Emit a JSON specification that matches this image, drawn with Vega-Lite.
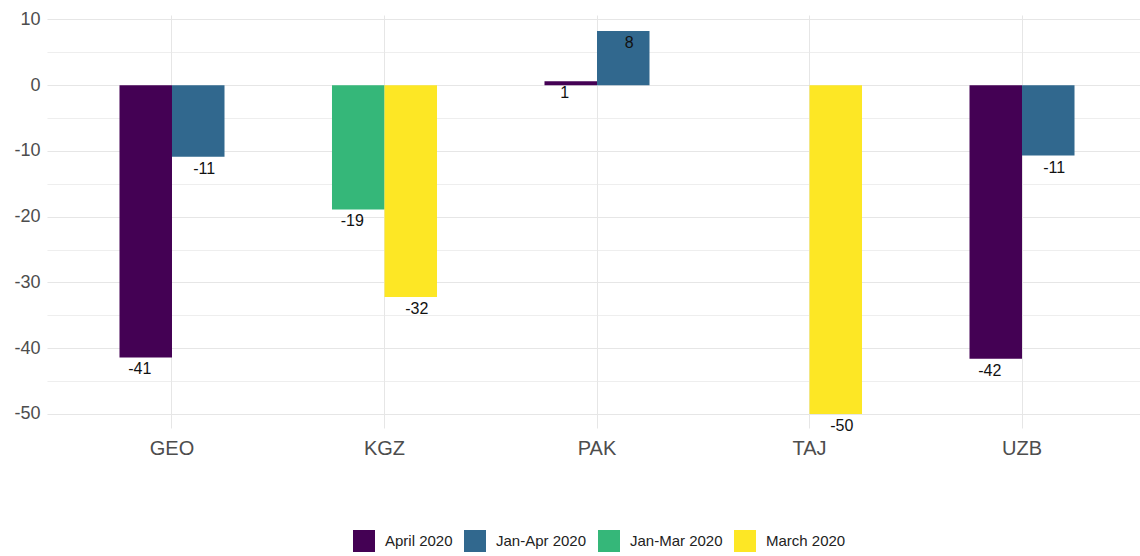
{
  "$schema": "https://vega.github.io/schema/vega-lite/v6.json",
  "width": 1100,
  "height": 413,
  "autosize": {"type": "none"},
  "padding": {"left": 47, "top": 15, "right": 0, "bottom": 128},
  "background": "white",
  "config": {
    "view": {"stroke": null},
    "font": "Liberation Sans, Arial, sans-serif",
    "locale": {"number": {"decimal": ".", "thousands": ",", "grouping": [3], "currency": ["$", ""], "minus": "-"}},
    "axis": {"domain": false, "ticks": false, "gridColor": "#e6e6e6", "labelColor": "#4d4d4d", "labelFont": "Liberation Sans, Arial, sans-serif", "title": null}
  },
  "data": {
    "values": [
      {"country": "GEO", "period": "April 2020", "value": -41.4},
      {"country": "GEO", "period": "Jan-Apr 2020", "value": -10.86},
      {"country": "KGZ", "period": "Jan-Mar 2020", "value": -18.9},
      {"country": "KGZ", "period": "March 2020", "value": -32.2},
      {"country": "PAK", "period": "April 2020", "value": 0.6},
      {"country": "PAK", "period": "Jan-Apr 2020", "value": 8.25},
      {"country": "TAJ", "period": "April 2020", "value": null},
      {"country": "TAJ", "period": "March 2020", "value": -50},
      {"country": "UZB", "period": "April 2020", "value": -41.6},
      {"country": "UZB", "period": "Jan-Apr 2020", "value": -10.7}
    ]
  },
  "transform": [
    {"window": [{"op": "row_number", "as": "slot"}], "groupby": ["country"], "sort": [{"field": "period"}]}
  ],
  "encoding": {
    "x": {
      "field": "country", "type": "nominal",
      "scale": {"paddingInner": 0.3976, "paddingOuter": 0.287},
      "axis": {"grid": true, "bandPosition": 0.5, "labelAngle": 0, "labelFontSize": 20, "labelPadding": 10, "gridWidth": 1}
    },
    "y": {
      "field": "value", "type": "quantitative",
      "scale": {"domain": [-52.13, 10.68], "nice": false, "zero": false},
      "axis": {
        "values": [-50, -45, -40, -35, -30, -25, -20, -15, -10, -5, 0, 5, 10],
        "labelExpr": "datum.value % 10 === 0 ? datum.label : ''",
        "labelFontSize": 18, "labelPadding": 7,
        "gridWidth": {"condition": {"test": "datum.value % 10 !== 0", "value": 0.7}, "value": 1.1}
      }
    },
    "xOffset": {"field": "slot", "type": "ordinal", "scale": {"domain": [1, 2], "paddingInner": 0, "paddingOuter": 0.219}}
  },
  "layer": [
    {
      "mark": {"type": "bar"},
      "encoding": {
        "color": {
          "field": "period", "type": "nominal",
          "scale": {"domain": ["April 2020", "Jan-Apr 2020", "Jan-Mar 2020", "March 2020"], "range": ["#440154", "#31688E", "#35B779", "#FDE725"]},
          "legend": {
            "title": null, "orient": "none", "direction": "horizontal", "legendX": 306, "legendY": 515,
            "symbolType": "square", "symbolSize": 484, "symbolStrokeWidth": 0, "symbolOpacity": 1,
            "labelFontSize": 15, "labelColor": "#222222", "labelOffset": 10, "columnPadding": 11, "padding": 0,
            "labelFont": "Liberation Sans, Arial, sans-serif"
          }
        }
      }
    },
    {
      "transform": [{"filter": "datum.slot === 1"}],
      "mark": {"type": "text", "baseline": "middle", "align": "center", "dy": 12, "dx": -6, "fontSize": 16, "color": "#111111"},
      "encoding": {
        "text": {"field": "value", "type": "quantitative", "format": ".0f"}
      }
    },
    {
      "transform": [{"filter": "datum.slot === 2"}],
      "mark": {"type": "text", "baseline": "middle", "align": "center", "dy": 12, "dx": 6, "fontSize": 16, "color": "#111111"},
      "encoding": {
        "text": {"field": "value", "type": "quantitative", "format": ".0f"}
      }
    }
  ]
}
